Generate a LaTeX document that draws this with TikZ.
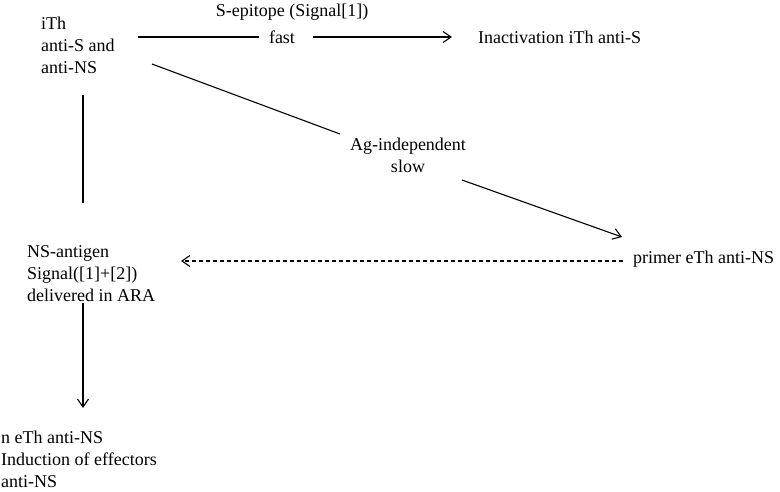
\documentclass[tikz,border=0pt]{standalone}
\usepackage{fontspec}
\setmainfont{Liberation Serif}
\usetikzlibrary{arrows.meta}
\begin{document}
\begin{tikzpicture}[x=1pt,y=-1pt,
  txt/.style={inner sep=0pt, font=\fontsize{18}{22}\selectfont, align=left},
  ln/.style={line width=1.1pt},
  arr/.style={ln, -{Straight Barb[length=8pt,width=11pt]}},
  dsh/.style={dash pattern=on 4pt off 3pt}]
\useasboundingbox (0,0) rectangle (780,491);
\node[txt, anchor=west] (ith) at (41,45) {iTh\\anti-S and\\anti-NS};
\node[txt] (sep) at (292,12) {S-epitope (Signal[1])};
\node[txt] (fast) at (282,37) {fast};
\node[txt, anchor=west] (inact) at (478,37) {Inactivation iTh anti-S};
\node[txt, align=center] (agi) at (408,155) {Ag-independent\\slow};
\node[txt, anchor=west] (primer) at (633,259) {primer eTh anti-NS};
\node[txt, anchor=west] (nsag) at (27,274) {NS-antigen\\Signal([1]+[2])\\delivered in ARA};
\node[txt, anchor=west] (neth) at (1,459) {n eTh anti-NS\\Induction of effectors\\anti-NS};
% top arrow
\draw[ln] ([shift={(97,-8)}]ith.west) -- ([xshift=-10pt]fast.west);
\draw[arr] ([xshift=18pt]fast.east) -- ([xshift=-26pt]inact.west);
% diagonal
\draw[ln] ([shift={(111,19)}]ith.west) -- ([shift={(-68,-21)}]agi.center);
\draw[arr] ([shift={(54,25)}]agi.center) -- ([shift={(-11,-22)}]primer.west);
% dashed
\draw[arr, dsh] ([shift={(-10,2)}]primer.west) -- ([shift={(154,-13)}]nsag.west);
% vertical
\draw[ln] ([shift={(42,50)}]ith.west) -- ([shift={(56,-71)}]nsag.west);
\draw[arr] ([shift={(56,29)}]nsag.west) -- ([shift={(82,-51)}]neth.west);
\end{tikzpicture}
\end{document}
